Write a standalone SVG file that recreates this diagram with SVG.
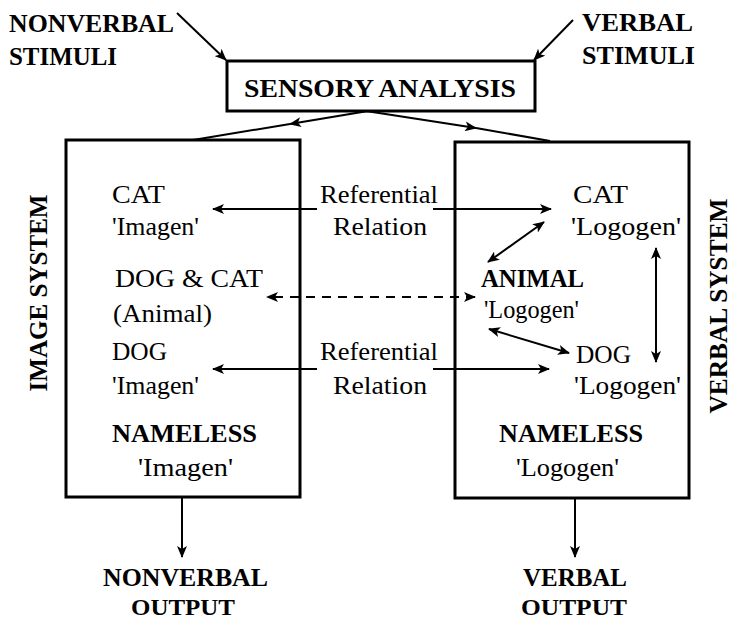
<svg xmlns="http://www.w3.org/2000/svg" width="733" height="622" viewBox="0 0 733 622">
<defs>
<marker id="ah" viewBox="0 0 12 10" refX="11" refY="5" markerWidth="12" markerHeight="10" markerUnits="userSpaceOnUse" orient="auto-start-reverse">
<path d="M0,0 L12,5 L0,10 L3,5 z" fill="#000"/>
</marker>
</defs>
<style>
text{font-family:"Liberation Serif","Times New Roman",serif;fill:#000;font-size:26px}
.b{font-weight:bold}
.o{font-size:24px}
.box{fill:none;stroke:#000;stroke-width:3}
.c{fill:none;stroke:#000;stroke-width:2}
.d{fill:none;stroke:#000;stroke-width:2;stroke-dasharray:9,7}
</style>
<rect width="733" height="622" fill="#fff"/>

<g id="nonverbal-stimuli">
<text class="b" x="9" y="32" textLength="165" lengthAdjust="spacingAndGlyphs">NONVERBAL</text>
<text class="b" x="9" y="65" textLength="108" lengthAdjust="spacingAndGlyphs">STIMULI</text>
</g>
<g id="verbal-stimuli">
<text class="b" x="582" y="31" textLength="111" lengthAdjust="spacingAndGlyphs">VERBAL</text>
<text class="b" x="582" y="64" textLength="113" lengthAdjust="spacingAndGlyphs">STIMULI</text>
</g>
<g id="sensory-analysis">
<rect class="box" x="227" y="61" width="308" height="50"/>
<text class="b" x="244" y="97" textLength="272" lengthAdjust="spacingAndGlyphs">SENSORY ANALYSIS</text>
</g>

<g id="image-system">
<rect class="box" x="66" y="140" width="234" height="357"/>
<text class="b" transform="translate(47,293) rotate(-90)" x="0" y="0" text-anchor="middle" textLength="197" lengthAdjust="spacingAndGlyphs">IMAGE SYSTEM</text>
<text x="112" y="203" textLength="53" lengthAdjust="spacingAndGlyphs">CAT</text>
<text x="112" y="235" textLength="87" lengthAdjust="spacingAndGlyphs">'Imagen'</text>
<text x="115" y="287" textLength="148" lengthAdjust="spacingAndGlyphs">DOG &amp; CAT</text>
<text x="113" y="322" textLength="99" lengthAdjust="spacingAndGlyphs">(Animal)</text>
<text x="112" y="360" textLength="55" lengthAdjust="spacingAndGlyphs">DOG</text>
<text x="112" y="394" textLength="87" lengthAdjust="spacingAndGlyphs">'Imagen'</text>
<text class="b" x="112" y="442" textLength="145" lengthAdjust="spacingAndGlyphs">NAMELESS</text>
<text x="138" y="476" textLength="95" lengthAdjust="spacingAndGlyphs">'Imagen'</text>
</g>

<g id="verbal-system">
<rect class="box" x="455" y="142" width="234" height="356"/>
<text class="b" transform="translate(727,306) rotate(-90)" x="0" y="0" text-anchor="middle" textLength="215" lengthAdjust="spacingAndGlyphs">VERBAL SYSTEM</text>
<text x="573" y="203" textLength="55" lengthAdjust="spacingAndGlyphs">CAT</text>
<text x="571" y="235" textLength="110" lengthAdjust="spacingAndGlyphs">'Logogen'</text>
<text class="b" x="481" y="287" textLength="103" lengthAdjust="spacingAndGlyphs">ANIMAL</text>
<text x="484" y="318" textLength="95" lengthAdjust="spacingAndGlyphs">'Logogen'</text>
<text x="576" y="363" textLength="55" lengthAdjust="spacingAndGlyphs">DOG</text>
<text x="574" y="394" textLength="107" lengthAdjust="spacingAndGlyphs">'Logogen'</text>
<text class="b" x="499" y="442" textLength="144" lengthAdjust="spacingAndGlyphs">NAMELESS</text>
<text x="516" y="476" textLength="103" lengthAdjust="spacingAndGlyphs">'Logogen'</text>
</g>

<g id="referential-relation-1">
<text x="320" y="203" textLength="118" lengthAdjust="spacingAndGlyphs">Referential</text>
<text x="333" y="235" textLength="94" lengthAdjust="spacingAndGlyphs">Relation</text>
</g>
<g id="referential-relation-2">
<text x="320" y="360" textLength="118" lengthAdjust="spacingAndGlyphs">Referential</text>
<text x="333" y="394" textLength="94" lengthAdjust="spacingAndGlyphs">Relation</text>
</g>

<g id="nonverbal-output">
<text class="b" x="103" y="586" textLength="165" lengthAdjust="spacingAndGlyphs">NONVERBAL</text>
<text class="b o" x="131" y="615" textLength="104" lengthAdjust="spacingAndGlyphs">OUTPUT</text>
</g>
<g id="verbal-output">
<text class="b" x="523" y="586" textLength="104" lengthAdjust="spacingAndGlyphs">VERBAL</text>
<text class="b o" x="521" y="615" textLength="106" lengthAdjust="spacingAndGlyphs">OUTPUT</text>
</g>

<g id="connectors">
<line class="c" x1="177" y1="13" x2="226" y2="60" marker-end="url(#ah)"/>
<line class="c" x1="573" y1="20" x2="534" y2="60" marker-end="url(#ah)"/>
<polyline class="c" points="368,111 290,124" marker-end="url(#ah)"/>
<line class="c" x1="290" y1="124" x2="193" y2="140"/>
<polyline class="c" points="366,111 476,128" marker-end="url(#ah)"/>
<line class="c" x1="476" y1="128" x2="550" y2="141"/>
<line class="c" x1="317" y1="209" x2="213" y2="209" marker-end="url(#ah)"/>
<line class="c" x1="433" y1="209" x2="551" y2="209" marker-end="url(#ah)"/>
<line class="c" x1="317" y1="369" x2="213" y2="369" marker-end="url(#ah)"/>
<line class="c" x1="433" y1="369" x2="549" y2="369" marker-end="url(#ah)"/>
<line class="d" x1="475" y1="297" x2="267" y2="297" marker-start="url(#ah)" marker-end="url(#ah)"/>
<line class="c" x1="544" y1="222" x2="488" y2="262" marker-start="url(#ah)" marker-end="url(#ah)"/>
<line class="c" x1="489" y1="329" x2="569" y2="353" marker-start="url(#ah)" marker-end="url(#ah)"/>
<line class="c" x1="656" y1="248" x2="656" y2="362" marker-start="url(#ah)" marker-end="url(#ah)"/>
<line class="c" x1="182" y1="497" x2="182" y2="557" marker-end="url(#ah)"/>
<line class="c" x1="575" y1="498" x2="575" y2="557" marker-end="url(#ah)"/>
</g>
</svg>
